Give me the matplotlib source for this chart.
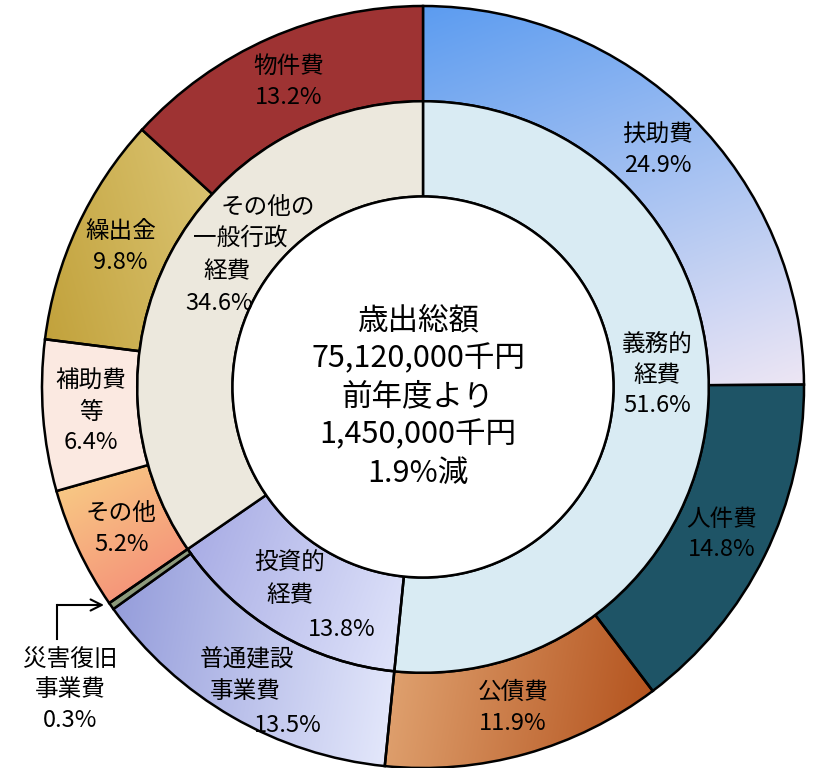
import numpy as np
import matplotlib.pyplot as plt
from matplotlib.colors import to_rgb

plt.rcParams['font.family'] = ['Noto Sans CJK JP', 'DejaVu Sans']

# outer ring (detail), clockwise from 12 o'clock
outer_labels = ['扶助費', '人件費', '公債費', '普通建設\n事業費', '災害復旧\n事業費',
                'その他', '補助費\n等', '繰出金', '物件費']
outer_values = [24.9, 14.8, 11.9, 13.5, 0.3, 5.2, 6.4, 9.8, 13.2]

# inner ring (groups)
inner_labels = ['義務的\n経費', '投資的\n経費', 'その他の\n一般行政\n経費']
inner_values = [51.6, 13.8, 34.6]

center_lines = ['歳出総額', '75,120,000千円', '前年度より', '1,450,000千円', '1.9%減']

# fill: solid colour or (colour1, colour2, gradient direction in degrees)
outer_fill = [('#5c9cf0', '#ede6f4', -70), '#1e5466', ('#e2a674', '#b4541f', -10),
              ('#959ddb', '#e3e7fb', -10), '#8c9a7c', ('#f8c884', '#f5967a', -60),
              '#fbe9e1', ('#c2a23c', '#ecdc98', 15), '#9e3333']
inner_fill = ['#d9ebf3', ('#a9ade5', '#dfe3fa', -20), '#ece8dd']

W, H = 816, 768
cx, cy, R = 423, 387, 381
FS = 17
LS = 1.42

fig = plt.figure(figsize=(W / 100, H / 100), dpi=100)
ax = fig.add_axes([0, 0, 1, 1])


def px(x, y):
    return (x - cx) / R, (cy - y) / R


def gradient(ax, wedge, c1, c2, ang):
    v = wedge.get_path().vertices
    x0, x1 = v[:, 0].min(), v[:, 0].max()
    y0, y1 = v[:, 1].min(), v[:, 1].max()
    xs = np.linspace(x0, x1, 200)
    ys = np.linspace(y0, y1, 200)
    X, Y = np.meshgrid(xs, ys)
    d = np.array([np.cos(np.radians(ang)), np.sin(np.radians(ang))])
    proj = v @ d
    t = (X * d[0] + Y * d[1] - proj.min()) / (proj.max() - proj.min())
    t = np.clip(t, 0, 1)[..., None]
    img = np.array(to_rgb(c1)) * (1 - t) + np.array(to_rgb(c2)) * t
    im = ax.imshow(img, extent=[x0, x1, y0, y1], origin='lower', zorder=0.5,
                   interpolation='bilinear')
    im.set_clip_path(wedge)
    wedge.set_facecolor('none')


def ring(values, fills, radius):
    wedges, _ = ax.pie(values, radius=radius, startangle=90, counterclock=False,
                       wedgeprops=dict(width=0.25, edgecolor='black', linewidth=1.8))
    for w, f in zip(wedges, fills):
        if isinstance(f, tuple):
            gradient(ax, w, *f)
        else:
            w.set_facecolor(f)
    return wedges


outer = ring(outer_values, outer_fill, 1.0)
inner = ring(inner_values, inner_fill, 0.75)
ax.add_patch(plt.Circle((0, 0), 0.5, facecolor='white', edgecolor='black',
                        linewidth=1.8, zorder=2))


def mid_angles(values):
    c = np.cumsum([0] + list(values))
    return np.radians(90 - (c[:-1] + c[1:]) / 2 * 3.6)


def lines_at(lines, positions):
    for s, p in zip(lines, positions):
        ax.text(*px(*p), s, ha='center', va='center', fontsize=FS, zorder=5)


# outer labels, at the middle of each wedge
for i, (lab, val, a) in enumerate(zip(outer_labels, outer_values, mid_angles(outer_values))):
    if i in (3, 4):
        continue
    r = 0.875
    ax.text(r * np.cos(a), r * np.sin(a), f'{lab}\n{val}%', ha='center', va='center',
            fontsize=FS, linespacing=LS, zorder=5)

# 普通建設事業費 (staggered lines as in the original)
lines_at(outer_labels[3].split('\n') + [f'{outer_values[3]}%'],
         [(247, 660), (245, 691), (288, 725)])

# 災害復旧事業費 label outside with arrow
ax.text(*px(70, 690), f'{outer_labels[4]}\n{outer_values[4]}%', ha='center', va='center',
        fontsize=FS, linespacing=LS, zorder=5)
ax.annotate('', xy=px(104, 605), xytext=px(57, 605),
            arrowprops=dict(arrowstyle='->', color='black', lw=1.5,
                            mutation_scale=20, shrinkA=0, shrinkB=0), zorder=5)
ax.plot(*zip(px(57, 639), px(57, 605)), color='black', lw=1.5, zorder=5)

# inner labels
ax.text(*px(657, 375), f'{inner_labels[0]}\n{inner_values[0]}%', ha='center',
        va='center', fontsize=FS, linespacing=LS, zorder=5)
lines_at(inner_labels[1].split('\n') + [f'{inner_values[1]}%'],
         [(290, 563), (290, 595), (342, 630)])
lines_at(inner_labels[2].split('\n') + [f'{inner_values[2]}%'],
         [(268, 207), (240, 238), (227, 272), (219, 303)])

# center text
ax.text(*px(418, 397), '\n'.join(center_lines), ha='center', va='center', fontsize=22,
        linespacing=1.3, zorder=5)

ax.set_xlim((0 - cx) / R, (W - cx) / R)
ax.set_ylim((cy - H) / R, cy / R)
ax.set_aspect('auto')
ax.axis('off')

fig.savefig('out.png', dpi=100)
